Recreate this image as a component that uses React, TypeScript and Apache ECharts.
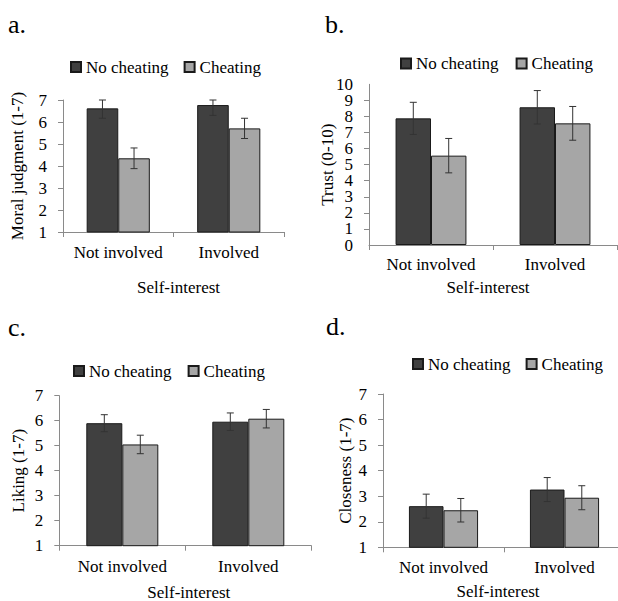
import React, { useEffect, useRef } from "react";
import * as echarts from "echarts";

const categories = ["Not involved", "Involved"];
const seriesNames = ["No cheating", "Cheating"];
const panelLabels = ["a.", "b.", "c.", "d."];
const yTitles = ["Moral judgment (1-7)", "Trust (0-10)", "Liking (1-7)", "Closeness (1-7)"];
const xTitle = "Self-interest";

const moralNoCheat = [6.62, 6.77];
const moralNoCheatErr = [0.45, 0.47];
const moralCheat = [4.35, 5.71];
const moralCheatErr = [0.47, 0.46];

const trustNoCheat = [7.88, 8.57];
const trustNoCheatErr = [1.0, 1.04];
const trustCheat = [5.56, 7.57];
const trustCheatErr = [1.07, 1.05];

const likingNoCheat = [5.9, 5.96];
const likingNoCheatErr = [0.34, 0.35];
const likingCheat = [5.05, 6.08];
const likingCheatErr = [0.37, 0.37];

const closenessNoCheat = [2.61, 3.26];
const closenessNoCheatErr = [0.47, 0.47];
const closenessCheat = [2.45, 2.94];
const closenessCheatErr = [0.46, 0.47];

const yMins = [1, 0, 1, 1];
const yMaxs = [7, 10, 7, 7];

const FONT = "Liberation Serif";
const DARK = "#404040";
const LIGHT = "#a6a6a6";
const AXIS = "#8a8a8a";
const BAR_FRAC = 0.2857;

const panels = [
  { no: moralNoCheat, noErr: moralNoCheatErr, ch: moralCheat, chErr: moralCheatErr },
  { no: trustNoCheat, noErr: trustNoCheatErr, ch: trustCheat, chErr: trustCheatErr },
  { no: likingNoCheat, noErr: likingNoCheatErr, ch: likingCheat, chErr: likingCheatErr },
  { no: closenessNoCheat, noErr: closenessNoCheatErr, ch: closenessCheat, chErr: closenessCheatErr },
];

const layout = [
  { grid: { left: 63, top: 100, width: 221, height: 132 }, legend: { left: 70, top: 58.5, gap: 15 }, label: { left: 8, top: 11 }, nameGapX: 47, padX: [0, 0, 0, 10], nameGapY: 37, marginX: 12 },
  { grid: { left: 369, top: 84.3, width: 248, height: 160.7 }, legend: { left: 400, top: 55, gap: 17 }, label: { left: 325, top: 11 }, nameGapX: 34, padX: [0, 10, 0, 0], nameGapY: 33, marginX: 11 },
  { grid: { left: 59.3, top: 395.7, width: 252, height: 150 }, legend: { left: 73, top: 362.5, gap: 16 }, label: { left: 8, top: 314 }, nameGapX: 38, padX: [0, 0, 0, 7], nameGapY: 32.5, marginX: 12 },
  { grid: { left: 383, top: 394, width: 242, height: 153.3 }, legend: { left: 412, top: 355.5, gap: 15 }, label: { left: 326, top: 313 }, nameGapX: 36, padX: [0, 12, 0, 0], nameGapY: 29, marginX: 12 },
];

function errorRenderer(ymax: number) {
  return (params: any, api: any) => {
    const cat = api.value(0);
    const v = api.value(1);
    const e = api.value(2);
    const off = api.value(3);
    const center = api.coord([cat, v]);
    const band = api.size([1, 0])[0];
    const bw = band * BAR_FRAC;
    const x = center[0] + (off * bw) / 2;
    const yTop = api.coord([cat, Math.min(v + e, ymax)])[1];
    const yBot = api.coord([cat, v - e])[1];
    const cap = 3.5;
    const style = { stroke: "#333", lineWidth: 1, fill: null };
    return {
      type: "group",
      children: [
        { type: "line", shape: { x1: x, y1: yTop, x2: x, y2: yBot }, style },
        { type: "line", shape: { x1: x - cap, y1: yTop, x2: x + cap, y2: yTop }, style },
        { type: "line", shape: { x1: x - cap, y1: yBot, x2: x + cap, y2: yBot }, style },
      ],
    };
  };
}

const labelBase = { fontFamily: FONT, fontSize: 17, color: "#000", margin: 16 };

export default function App() {
  const ref = useRef<HTMLDivElement>(null);
  useEffect(() => {
    if (!ref.current) return;
    const chart = echarts.init(ref.current, undefined, { renderer: "svg" });
    const grids: any[] = [];
    const xAxes: any[] = [];
    const yAxes: any[] = [];
    const legends: any[] = [];
    const titles: any[] = [];
    const series: any[] = [];
    panels.forEach((p, i) => {
      const L = layout[i];
      grids.push({ ...L.grid, containLabel: false, outerBoundsMode: "none" });
      titles.push({
        text: panelLabels[i],
        left: L.label.left,
        top: L.label.top,
        padding: 0,
        textStyle: { fontFamily: FONT, fontSize: 26, fontWeight: "normal", color: "#000" },
      });
      legends.push({
        data: seriesNames,
        left: L.legend.left,
        top: L.legend.top,
        padding: 0,
        itemWidth: 10,
        itemHeight: 10,
        itemGap: L.legend.gap,
        icon: "rect",
        selectedMode: false,
        textStyle: { fontFamily: FONT, fontSize: 17, color: "#000" },
      });
      xAxes.push({
        type: "category",
        gridIndex: i,
        data: categories,
        axisLine: { lineStyle: { color: AXIS, width: 1 } },
        axisTick: { show: true, length: 5, lineStyle: { color: AXIS } },
        axisLabel: { fontFamily: FONT, fontSize: 17, color: "#000", margin: L.marginX, interval: 0 },
        name: xTitle,
        nameLocation: "middle",
        nameGap: L.nameGapX,
        nameTextStyle: { fontFamily: FONT, fontSize: 17, color: "#000", padding: L.padX },
      });
      const dense = i === 1;
      yAxes.push({
        type: "value",
        gridIndex: i,
        position: "left",
        min: yMins[i],
        max: yMaxs[i],
        interval: 1,
        splitLine: { show: false },
        axisLine: { show: true, lineStyle: { color: AXIS, width: 1 } },
        axisTick: { show: true, length: 5, lineStyle: { color: AXIS } },
        axisLabel: dense
          ? { ...labelBase, lineHeight: 14, showMinLabel: false, showMaxLabel: false }
          : { ...labelBase, showMinLabel: true, showMaxLabel: true },
        name: yTitles[i],
        nameLocation: "middle",
        nameGap: L.nameGapY,
        nameTextStyle: { fontFamily: FONT, fontSize: 17, color: "#000" },
      });
    });
    // extra axis on panel b carrying only the end labels (0 and 10)
    yAxes.push({
      type: "value",
      gridIndex: 1,
      position: "left",
      offset: 0,
      min: yMins[1],
      max: yMaxs[1],
      interval: yMaxs[1] - yMins[1],
      splitLine: { show: false },
      axisLine: { show: false },
      axisTick: { show: false },
      axisLabel: { ...labelBase, lineHeight: 14, showMinLabel: true, showMaxLabel: true },
    });
    panels.forEach((p, i) => {
      const vals = [p.no, p.ch];
      const errs = [p.noErr, p.chErr];
      const colors = [DARK, LIGHT];
      vals.forEach((v, s) => {
        series.push({
          type: "bar",
          name: seriesNames[s],
          xAxisIndex: i,
          yAxisIndex: i,
          data: v,
          barWidth: BAR_FRAC * 100 + "%",
          barGap: "0%",
          itemStyle: { color: colors[s], borderColor: "#1a1a1a", borderWidth: 1 },
          emphasis: { disabled: true },
          z: 2,
        });
      });
      vals.forEach((v, s) => {
        series.push({
          type: "custom",
          name: seriesNames[s] + " error",
          xAxisIndex: i,
          yAxisIndex: i,
          data: v.map((val, k) => [k, val, errs[s][k], s === 0 ? -1 : 1]),
          encode: { x: 0, y: 1 },
          renderItem: errorRenderer(yMaxs[i]),
          z: 5,
          silent: true,
        });
      });
    });
    chart.setOption({
      animation: false,
      backgroundColor: "#fff",
      title: titles,
      legend: legends,
      grid: grids,
      xAxis: xAxes,
      yAxis: yAxes,
      series,
    });
    return () => chart.dispose();
  }, []);
  return (
    <div
      ref={ref}
      style={{ position: "fixed", left: 0, top: 0, width: 618, height: 601, background: "#fff" }}
    />
  );
}
